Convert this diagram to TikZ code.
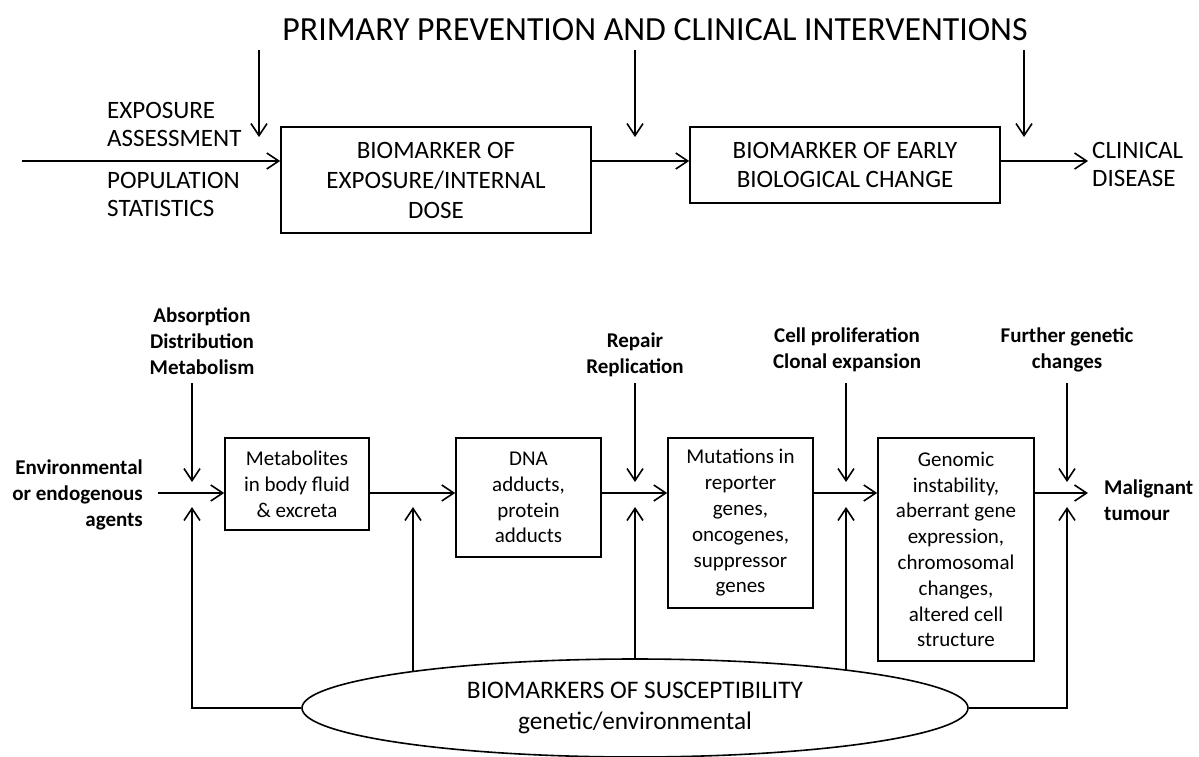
\documentclass[tikz,border=0pt]{standalone}
\usepackage{fontspec}
\setmainfont{Carlito}
\usetikzlibrary{arrows.meta,shapes.geometric,backgrounds}
\begin{document}
\begin{tikzpicture}[x=1pt,y=-1pt,
  arr/.style={line width=1.6pt,-{Straight Barb[length=12pt,width=16pt,line width=1.6pt]}},
  ln/.style={line width=1.6pt},
  boxA/.style={draw,line width=1.6pt,inner sep=0pt,align=center,font=\fontsize{25}{29}\selectfont},
  boxB/.style={draw,line width=1.6pt,inner sep=0pt,align=center,font=\fontsize{21}{25.8}\selectfont},
  txtA/.style={inner sep=0pt,font=\fontsize{25}{28}\selectfont},
  txtB/.style={inner sep=0pt,align=center,font=\fontsize{21}{26}\selectfont\bfseries},
]
\useasboundingbox (0,0) rectangle (1199,756);

% ---------- top section ----------
\node[inner sep=0pt,font=\fontsize{33.8}{38}\selectfont] (title) at (655,30) {PRIMARY PREVENTION AND CLINICAL INTERVENTIONS};

\node[boxA,minimum width=310pt,minimum height=106pt] (b1) at (436,180) {BIOMARKER OF\\[1pt]EXPOSURE/INTERNAL\\[1pt]DOSE};
\node[boxA,minimum width=310pt,minimum height=76pt] (b2) at (845,165) {BIOMARKER OF EARLY\\BIOLOGICAL CHANGE};

\node[txtA,anchor=west,align=left] (ea) at (107,124) {EXPOSURE\\ASSESSMENT};
\node[txtA,anchor=west,align=left] (ps) at (107,194) {POPULATION\\STATISTICS};
\node[txtA,anchor=west,align=left] (cd) at (1092,164) {CLINICAL\\DISEASE};

\coordinate (hin) at (22,161);
\coordinate (hout) at (1088,161);
\coordinate (t1s) at (259,50);  \coordinate (t1e) at (259,137);
\coordinate (t2s) at (635,50);  \coordinate (t2e) at (635,137);
\coordinate (t3s) at (1024,50); \coordinate (t3e) at (1024,137);

\draw[arr] (hin) -- (b1.west |- hin);
\draw[arr] (b1.east |- hin) -- (b2.west |- hin);
\draw[arr] (b2.east |- hout) -- (hout);
\draw[arr] (t1s) -- (t1e);
\draw[arr] (t2s) -- (t2e);
\draw[arr] (t3s) -- (t3e);

% ---------- bottom section ----------
\node[boxB,minimum width=144pt,minimum height=92pt] (m) at (297,484) {Metabolites\\in body fluid\\\& excreta};
\node[boxB,minimum width=145pt,minimum height=119pt] (d) at (528.5,497.5) {DNA\\adducts,\\protein\\adducts};
\node[boxB,minimum width=145pt,minimum height=170pt] (mu) at (740.5,523) {Mutations in\\reporter\\genes,\\oncogenes,\\suppressor\\genes};
\node[boxB,minimum width=156pt,minimum height=223pt] (g) at (956,549.5) {Genomic\\instability,\\aberrant gene\\expression,\\chromosomal\\changes,\\altered cell\\structure};

\node[draw,ellipse,line width=1.6pt,fill=white,inner sep=0pt,minimum width=666pt,minimum height=98pt,align=center,font=\fontsize{25.3}{31}\selectfont] (e) at (635,708) {BIOMARKERS OF SUSCEPTIBILITY\\genetic/environmental};

\node[txtB] (adm) at (202,341) {Absorption\\Distribution\\Metabolism};
\node[txtB] (rr) at (635,355) {Repair\\Replication};
\node[txtB] (cp) at (847,350) {Cell proliferation\\Clonal expansion};
\node[txtB] (fg) at (1067,350) {Further genetic\\changes};
\node[txtB,anchor=east,align=right] (env) at (143,495) {Environmental\\or endogenous\\agents};
\node[txtB,anchor=west,align=left] (mal) at (1104,500) {Malignant\\tumour};

\coordinate (hb) at (0,493);
\coordinate (in2) at (158,493);
\coordinate (out2) at (1088,493);

\draw[arr] (in2) -- (m.west |- hb);
\draw[arr] (m.east |- hb) -- (d.west |- hb);
\draw[arr] (d.east |- hb) -- (mu.west |- hb);
\draw[arr] (mu.east |- hb) -- (g.west |- hb);
\draw[arr] (g.east |- hb) -- (out2);

% down arrows
\foreach \i/\x in {1/192,2/635,3/846,4/1067}{
  \coordinate (ds\i) at (\x,383);
  \coordinate (de\i) at (\x,482);
  \draw[arr] (ds\i) -- (de\i);
}

% up arrows (susceptibility)
\coordinate (u1) at (192,507);
\coordinate (u2) at (413,507);
\coordinate (u3) at (635,507);
\coordinate (u4) at (846,507);
\coordinate (u5) at (1067,507);
\draw[arr] (e.west) -| (u1);
\draw[arr] (e.east) -| (u5);
\begin{scope}[on background layer]
  \draw[arr] (e.center -| u2) -- (u2);
  \draw[arr] (e.center -| u3) -- (u3);
  \draw[arr] (e.center -| u4) -- (u4);
\end{scope}
\end{tikzpicture}
\end{document}
